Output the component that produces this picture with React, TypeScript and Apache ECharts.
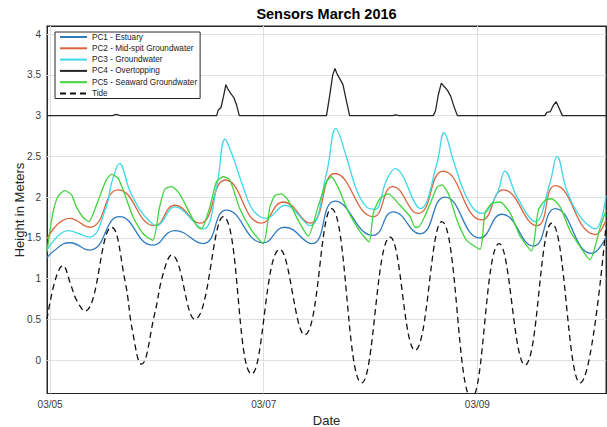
import React, { useEffect, useRef } from "react";
import * as echarts from "echarts";

// x values are hours after 03/05 00:00
const dateTicks = [0, 48, 96];
const dateLabels = ["03/05", "03/07", "03/09"];
const heightTicks = [0, 0.5, 1, 1.5, 2, 2.5, 3, 3.5, 4];

const names = [
  "PC1 - Estuary",
  "PC2 - Mid-spit Groundwater",
  "PC3 - Groundwater",
  "PC4 - Overtopping",
  "PC5 - Seaward Groundwater",
  "Tide",
];
const colors = ["#2f7bbf", "#d8643c", "#3fd6e8", "#262626", "#3fd43a", "#111111"];

const pc1: number[][] = [
  [-0.7, 1.25], [0.6, 1.33], [4.4, 1.44], [8.9, 1.35], [15.6, 1.76], [23.1, 1.41],
  [28.0, 1.59], [34.4, 1.43], [39.6, 1.84], [47.9, 1.44], [52.7, 1.63], [58.8, 1.43],
  [64.0, 1.95], [72.6, 1.53], [77.1, 1.82], [83.1, 1.55], [88.7, 2.0], [96.6, 1.5],
  [101.5, 1.79], [108.6, 1.4], [113.5, 1.86], [121.7, 1.31], [124.9, 1.51],
];

const pc2: number[][] = [
  [-0.7, 1.49], [4.4, 1.74], [8.9, 1.63], [15.3, 2.09], [23.5, 1.65], [28.0, 1.9],
  [33.6, 1.68], [39.4, 2.21], [47.5, 1.68], [52.4, 1.94], [58.4, 1.68], [64.0, 2.29],
  [72.6, 1.76], [77.0, 2.13], [82.7, 1.8], [88.3, 2.32], [97.0, 1.72], [101.8, 2.09],
  [109.4, 1.65], [113.5, 2.14], [122.5, 1.54], [124.9, 1.72],
];

const pc3: number[][] = [
  [-0.7, 1.35], [4.0, 1.59], [8.9, 1.51], [12.6, 1.88], [13.8, 2.17], [15.6, 2.41],
  [17.9, 2.08], [20.2, 1.84], [22.4, 1.7], [23.9, 1.65], [28.0, 1.88], [34.4, 1.61],
  [37.4, 2.12], [39.3, 2.71], [41.1, 2.49], [43.4, 2.12], [45.6, 1.84], [48.6, 1.74],
  [52.8, 1.9], [58.4, 1.65], [62.1, 2.29], [64.2, 2.84], [66.6, 2.49], [68.9, 2.08],
  [71.1, 1.88], [73.0, 1.85], [75.6, 2.21], [77.5, 2.35], [83.2, 1.86], [86.9, 2.41],
  [88.5, 2.79], [90.6, 2.45], [92.9, 2.08], [95.1, 1.86], [97.0, 1.8], [100.4, 2.04],
  [102.2, 2.32], [104.9, 2.0], [109.0, 1.7], [112.3, 2.17], [113.9, 2.5], [116.1, 2.08],
  [119.1, 1.76], [122.5, 1.61], [124.9, 2.02],
];

const pc4: number[][] = [
  [-0.7, 3.0], [14.0, 3.0], [14.8, 3.015], [15.8, 3.0], [37.4, 3.0], [37.8, 3.07],
  [38.4, 3.1], [38.9, 3.22], [39.5, 3.38], [39.9, 3.33], [40.6, 3.27], [41.3, 3.22],
  [41.9, 3.13], [42.5, 3.0], [62.1, 3.0], [62.8, 3.24], [63.5, 3.5], [64.0, 3.58],
  [64.4, 3.52], [65.0, 3.46], [65.8, 3.38], [66.5, 3.2], [67.3, 3.0], [77.0, 3.0],
  [77.6, 3.01], [78.4, 3.0], [86.1, 3.0], [86.6, 3.06], [87.2, 3.25], [87.9, 3.4],
  [88.5, 3.36], [89.3, 3.31], [90.0, 3.24], [90.7, 3.12], [91.5, 3.0], [111.2, 3.0],
  [111.6, 3.04], [112.4, 3.05], [113.1, 3.13], [113.7, 3.17], [114.3, 3.1], [115.1, 3.0],
  [124.9, 3.0],
];

const pc5: number[][] = [
  [-0.7, 1.33], [0.6, 1.8], [1.8, 2.01], [3.3, 2.08], [4.8, 2.03], [5.9, 1.88],
  [7.4, 1.75], [8.7, 1.7], [10.8, 1.96], [12.6, 2.21], [13.8, 2.28], [15.3, 2.23],
  [16.8, 2.03], [18.6, 1.76], [20.9, 1.55], [23.1, 1.47], [24.6, 1.88], [25.8, 2.1],
  [27.3, 2.13], [29.1, 2.04], [31.4, 1.8], [33.2, 1.63], [34.0, 1.61], [35.9, 1.88],
  [37.4, 2.19], [38.9, 2.25], [40.4, 2.21], [42.6, 1.86], [45.3, 1.59], [47.9, 1.43],
  [49.4, 1.88], [50.5, 2.02], [52.0, 2.04], [53.5, 1.96], [55.7, 1.72], [58.0, 1.52],
  [60.2, 1.88], [62.1, 2.19], [63.2, 2.25], [64.7, 2.12], [67.0, 1.82], [69.6, 1.58],
  [71.7, 1.45], [72.6, 1.8], [74.1, 1.98], [76.0, 2.04], [78.6, 1.9], [80.9, 1.76],
  [82.0, 1.63], [82.7, 1.63], [85.4, 1.92], [86.9, 2.12], [88.0, 2.15], [89.5, 2.04],
  [91.4, 1.72], [93.6, 1.47], [96.6, 1.36], [97.7, 1.8], [99.2, 1.92], [101.1, 1.94],
  [103.4, 1.8], [105.6, 1.52], [108.2, 1.34], [109.7, 1.84], [111.2, 1.96], [112.7, 1.98],
  [114.6, 1.88], [116.8, 1.59], [119.1, 1.39], [121.3, 1.23], [123.6, 1.63], [124.9, 1.84],
];

const tide: number[][] = [
  [-0.7, 0.5], [2.9, 1.16], [4.8, 0.9], [5.9, 0.74], [7.8, 0.6], [13.8, 1.63],
  [16.8, 0.98], [18.6, 0.33], [20.5, -0.05], [23.5, 0.57], [25.4, 1.06], [27.3, 1.29],
  [32.5, 0.5], [38.9, 1.76], [45.3, -0.17], [51.6, 1.36], [57.2, 0.31], [63.2, 1.86],
  [70.0, -0.28], [76.4, 1.51], [82.0, 0.12], [88.0, 1.7], [94.7, -0.47], [100.9, 1.43],
  [106.7, -0.06], [112.7, 1.68], [119.1, -0.28], [124.9, 1.65],
];

const seriesData = [pc1, pc2, pc3, pc4, pc5, tide];
const smoothing = [0.5, 0.5, 0.4, 0, 0.2, 0.45];

const X_MIN = -0.7;
const X_MAX = 124.9;
const Y_MIN = -0.41;
const Y_MAX = 4.1;

const FONT = "Liberation Sans";
const AXIS_COLOR = "#262626";
const GRID_COLOR = "#e0e0e0";

export default function App() {
  const ref = useRef<HTMLDivElement>(null);

  useEffect(() => {
    if (!ref.current) return;
    const chart = echarts.init(ref.current, undefined, { renderer: "svg" });

    const baseX = {
      type: "value" as const,
      min: X_MIN,
      max: X_MAX,
      splitLine: { show: false },
      axisLine: { show: true, onZero: false, lineStyle: { color: AXIS_COLOR, width: 1 } },
      axisTick: {
        show: true,
        inside: true,
        length: 4,
        customValues: dateTicks,
        lineStyle: { color: AXIS_COLOR },
      },
    };
    const baseY = {
      type: "value" as const,
      min: Y_MIN,
      max: Y_MAX,
      splitLine: { show: false },
      axisLine: { show: true, onZero: false, lineStyle: { color: AXIS_COLOR, width: 1 } },
      axisTick: {
        show: true,
        inside: true,
        length: 4,
        customValues: heightTicks,
        lineStyle: { color: AXIS_COLOR },
      },
    };

    const gridLines = [
      ...dateTicks.map((v) => ({ xAxis: v })),
      ...heightTicks.map((v) => ({ yAxis: v })),
    ];

    chart.setOption({
      animation: false,
      backgroundColor: "#ffffff",
      textStyle: { fontFamily: FONT },
      grid: {
        left: 47,
        top: 26,
        width: 559,
        height: 367.5,
        show: true,
        backgroundColor: "#ffffff",
        borderColor: AXIS_COLOR,
        borderWidth: 1,
        containLabel: false,
        outerBoundsMode: "none",
      },
      graphic: [
        {
          type: "text",
          x: 326.5,
          y: 14,
          z: 30,
          style: {
            text: "Sensors March 2016",
            textAlign: "center",
            textVerticalAlign: "middle",
            font: `bold 14.5px ${FONT}`,
            fill: "#000",
          },
        },
        {
          type: "text",
          x: 326.5,
          y: 420,
          z: 30,
          style: {
            text: "Date",
            textAlign: "center",
            textVerticalAlign: "middle",
            font: `13px ${FONT}`,
            fill: AXIS_COLOR,
          },
        },
        {
          type: "text",
          x: 19.5,
          y: 210,
          rotation: Math.PI / 2,
          z: 30,
          style: {
            text: "Height in Meters",
            textAlign: "center",
            textVerticalAlign: "middle",
            font: `13px ${FONT}`,
            fill: AXIS_COLOR,
          },
        },
      ],
      legend: {
        data: names,
        orient: "vertical",
        left: 55,
        top: 32,
        z: 20,
        itemWidth: 27,
        itemHeight: 10,
        itemGap: 3.3,
        padding: [1, 3, 1, 4],
        backgroundColor: "#ffffff",
        borderColor: AXIS_COLOR,
        borderWidth: 1,
        borderRadius: 0,
        selectedMode: false,
        itemStyle: { color: "rgba(0,0,0,0)", borderColor: "rgba(0,0,0,0)", borderWidth: 0 },
        textStyle: { fontSize: 8.2, color: "#1a1a1a", fontFamily: FONT },
      },
      xAxis: [
        {
          ...baseX,
          position: "bottom",
          axisLabel: {
            show: true,
            customValues: dateTicks,
            margin: 6,
            fontSize: 10,
            color: "#3a3a3a",
            fontFamily: FONT,
            formatter: (v: number) => {
              const i = dateTicks.indexOf(Math.round(v));
              return i >= 0 ? dateLabels[i] : "";
            },
          },
        },
        {
          ...baseX,
          position: "top",
          axisLabel: { show: false },
        },
      ],
      yAxis: [
        {
          ...baseY,
          position: "left",
          axisLabel: {
            show: true,
            customValues: heightTicks,
            margin: 6,
            fontSize: 10,
            color: "#3a3a3a",
            fontFamily: FONT,
            formatter: (v: number) => String(v),
          },
        },
        {
          ...baseY,
          position: "right",
          axisLabel: { show: false },
        },
      ],
      series: [
        {
          name: "__grid",
          type: "line",
          xAxisIndex: 0,
          yAxisIndex: 0,
          data: [],
          silent: true,
          z: 1,
          markLine: {
            silent: true,
            z: 1,
            symbol: ["none", "none"],
            label: { show: false },
            emphasis: { disabled: true },
            lineStyle: { color: GRID_COLOR, type: "solid", width: 1 },
            data: gridLines,
          },
        },
        ...names.map((name, i) => ({
          name,
          type: "line",
          xAxisIndex: 0,
          yAxisIndex: 0,
          data: seriesData[i],
          symbol: "none",
          showSymbol: false,
          smooth: smoothing[i] > 0 ? smoothing[i] : false,
          clip: true,
          color: colors[i],
          lineStyle: {
            color: colors[i],
            width: 1.3,
            type: i === 5 ? [6, 4] : "solid",
          },
          z: 2 + i,
        })),
      ],
    });

    return () => {
      chart.dispose();
    };
  }, []);

  return (
    <div
      ref={ref}
      style={{ position: "fixed", left: 0, top: 0, width: 607, height: 427 }}
    />
  );
}
